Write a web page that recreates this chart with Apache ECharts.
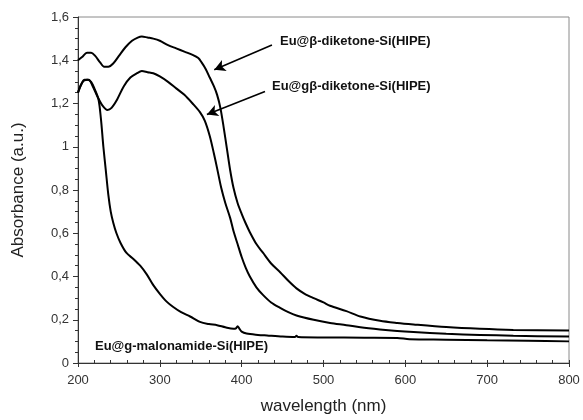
<!DOCTYPE html>
<html>
<head>
<meta charset="utf-8">
<script src="https://cdn.jsdelivr.net/npm/echarts@6/dist/echarts.min.js"></script>
<style>
html,body{margin:0;padding:0;background:#fff;}
#chart{width:583px;height:420px;}
</style>
</head>
<body>
<div id="chart"></div>
<script>
// Eu@β-diketone-Si(HIPE)
const waveA = [200,205,211,216,221,227,232,237,243,250,258,266,273,278,285,292,300,310,320,330,340,347,351,356,361,366,370,374,378,382,386,390,395,400,405,410,418,426,436,447,457,467,477,488,500,508,528,545,569,590,610,650,691,732,800];
const absA  = [1.40,1.415,1.435,1.435,1.42,1.39,1.37,1.37,1.385,1.42,1.46,1.49,1.505,1.51,1.505,1.50,1.49,1.47,1.455,1.44,1.425,1.41,1.39,1.36,1.32,1.28,1.24,1.18,1.09,0.99,0.89,0.81,0.74,0.69,0.645,0.605,0.55,0.51,0.46,0.42,0.38,0.345,0.32,0.30,0.28,0.265,0.24,0.215,0.195,0.185,0.178,0.166,0.158,0.153,0.150];
// Eu@gβ-diketone-Si(HIPE)
const waveB = [200,204,208,213,218,224,230,236,241,248,256,264,272,278,285,292,300,310,320,330,340,349,355,361,366,370,375,380,386,390,395,400,405,410,418,426,436,447,457,467,488,508,528,545,569,590,610,650,691,732,800];
const absB  = [1.25,1.29,1.31,1.31,1.28,1.23,1.19,1.17,1.18,1.22,1.28,1.32,1.34,1.35,1.345,1.34,1.325,1.30,1.27,1.24,1.20,1.16,1.12,1.05,0.97,0.90,0.81,0.74,0.67,0.61,0.55,0.49,0.44,0.40,0.35,0.315,0.28,0.255,0.235,0.22,0.20,0.185,0.175,0.165,0.155,0.148,0.143,0.135,0.13,0.126,0.122];
// Eu@g-malonamide-Si(HIPE)
const waveC = [200,203,207,212,216,220,225,228,231,234,237,240,243,247,252,259,268,276,284,292,300,308,316,326,337,349,360,370,380,390,393,395,397,400,406,420,431,450,465,467,469,500,550,590,605,650,700,750,800];
const absC  = [1.25,1.28,1.305,1.31,1.30,1.27,1.22,1.13,1.0,0.89,0.78,0.70,0.65,0.60,0.555,0.51,0.48,0.45,0.41,0.36,0.32,0.285,0.26,0.235,0.215,0.19,0.18,0.175,0.165,0.158,0.16,0.17,0.16,0.145,0.136,0.13,0.127,0.122,0.12,0.126,0.12,0.118,0.117,0.116,0.11,0.108,0.105,0.103,0.10];

const xTicks = [200,300,400,500,600,700,800];
const yTicks = [0,0.2,0.4,0.6,0.8,1,1.2,1.4,1.6];
const seriesNames = ['Eu@β-diketone-Si(HIPE)','Eu@gβ-diketone-Si(HIPE)','Eu@g-malonamide-Si(HIPE)'];

const zip = (xs, ys) => xs.map((x, i) => [x, ys[i]]);
const font = '"Liberation Sans", Arial, sans-serif';

const chart = echarts.init(document.getElementById('chart'), null, {renderer: 'canvas'});
const lineStyle = {color: '#000', width: 2};
const arrowStyle = {color: '#000', width: 1.6, type: 'solid'};

chart.setOption({
  animation: false,
  backgroundColor: '#fff',
  grid: {left: 78, right: 14, top: 17, bottom: 55, show: true, borderColor: '#8a8a8a', borderWidth: 1},
  xAxis: [{
    type: 'value', min: xTicks[0], max: xTicks[xTicks.length-1], interval: 100,
    name: 'wavelength (nm)', nameLocation: 'middle', nameGap: 35,
    nameTextStyle: {fontFamily: font, fontSize: 17, color: '#222'},
    axisLine: {lineStyle: {color: '#333', width: 1}},
    axisTick: {show: true, length: 4, lineStyle: {color: '#333'}},
    axisLabel: {fontFamily: font, fontSize: 13, color: '#333', margin: 11},
    splitLine: {show: false}
  }, {
    type: 'value', min: 200, max: 800, interval: 20, position: 'bottom',
    axisLine: {show: false},
    axisTick: {show: true, inside: true, length: 3, lineStyle: {color: '#333'}},
    axisLabel: {show: false}, splitLine: {show: false}
  }],
  yAxis: {
    type: 'value', min: yTicks[0], max: yTicks[yTicks.length-1], interval: 0.2,
    name: 'Absorbance (a.u.)', nameLocation: 'middle', nameGap: 51,
    nameTextStyle: {fontFamily: font, fontSize: 17, color: '#222'},
    axisLine: {show: true, lineStyle: {color: '#333', width: 1}},
    axisTick: {show: true, length: 5, lineStyle: {color: '#333'}},
    minorTick: {show: true, splitNumber: 4, length: 3, lineStyle: {color: '#333'}},
    axisLabel: {fontFamily: font, fontSize: 13, color: '#333', margin: 9,
      formatter: v => String(Math.round(v * 10) / 10).replace('.', ',')},
    splitLine: {show: false}
  },
  series: [
    {
      name: seriesNames[0], type: 'line', data: zip(waveA, absA), smooth: 0.3,
      showSymbol: false, lineStyle: lineStyle, z: 3,
      markLine: {
        silent: true, animation: false, label: {show: false},
        lineStyle: arrowStyle, symbolSize: [9, 11],
        data: [
          [{coord: [437, 1.471], symbol: 'none'}, {coord: [366.5, 1.356], symbol: 'arrow'}],
          [{coord: [428.5, 1.255], symbol: 'none'}, {coord: [357.5, 1.149], symbol: 'arrow'}]
        ]
      }
    },
    {name: seriesNames[1], type: 'line', data: zip(waveB, absB), smooth: 0.3, showSymbol: false, lineStyle: lineStyle, z: 3},
    {name: seriesNames[2], type: 'line', data: zip(waveC, absC), smooth: 0.3, showSymbol: false, lineStyle: lineStyle, z: 3}
  ],
  graphic: [
    {type: 'text', left: 280, top: 35, style: {text: seriesNames[0], font: 'bold 13px ' + font, fill: '#111'}},
    {type: 'text', left: 272, top: 80, style: {text: seriesNames[1], font: 'bold 13px ' + font, fill: '#111'}},
    {type: 'text', left: 95, top: 340, style: {text: seriesNames[2], font: 'bold 13px ' + font, fill: '#111'}}
  ]
});
</script>
</body>
</html>
